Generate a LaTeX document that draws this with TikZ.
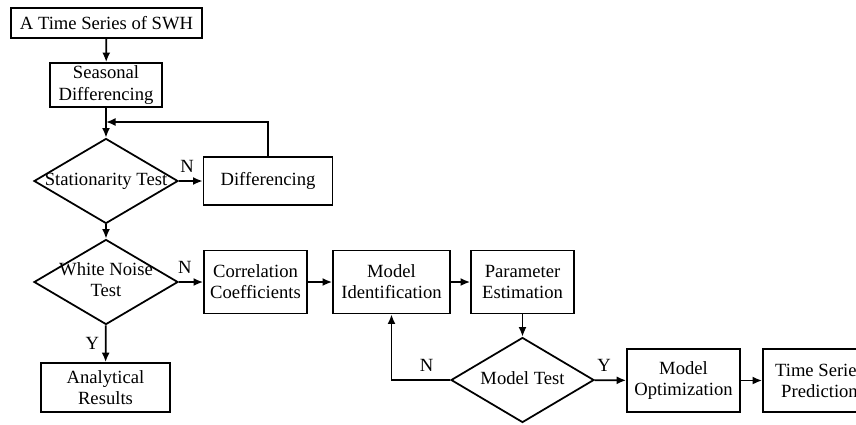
\documentclass[tikz,border=0pt]{standalone}
\usepackage{fontspec}
\setmainfont{Liberation Serif}
\usetikzlibrary{positioning,arrows.meta,shapes.geometric}
\newcommand{\dtext}[1]{\makebox[0pt]{\begin{tabular}{@{}c@{}}#1\end{tabular}}}

\begin{document}
\begin{tikzpicture}[every node/.style={font=\fontsize{10.6}{12}\selectfont},
  box/.style={draw,line width=1pt,align=center,inner sep=1pt},
  decision/.style={draw,diamond,line width=1pt,inner sep=0pt,minimum width=2.88cm,minimum height=1.70cm},
  flow/.style={-{Latex[length=1.9mm,width=1.6mm]},line width=1pt}]
  \useasboundingbox (0,0) rectangle (17.12,-8.48);
  % main column
  \node[box,minimum width=3.82cm,minimum height=0.60cm] (series) at (2.13,-0.46) {A Time Series of SWH};
  \node[box,minimum width=2.24cm,minimum height=0.88cm] (seas) at (2.12,-1.70) {Seasonal\\Differencing};
  \node[decision] (stat) at (2.12,-3.62) {\dtext{Stationarity Test}};
  \node[box,minimum width=2.58cm,minimum height=0.96cm] (diff) at (5.36,-3.62) {Differencing};
  \node[decision] (noise) at (2.12,-5.64) {\dtext{White Noise\\Test}};
  \node[box,minimum width=2.58cm,minimum height=0.98cm] (res) at (2.11,-7.75) {Analytical\\Results};
  % modelling row
  \node[box,minimum width=2.06cm,minimum height=1.26cm] (corr) at (5.11,-5.64) {Correlation\\Coefficients};
  \node[box,minimum width=2.34cm,minimum height=1.26cm] (ident) at (7.83,-5.64) {Model\\Identification};
  \node[box,minimum width=2.06cm,minimum height=1.26cm] (param) at (10.45,-5.64) {Parameter\\Estimation};
  \node[decision,minimum width=2.86cm] (mtest) at (10.45,-7.60) {\dtext{Model Test}};
  \node[box,minimum width=2.26cm,minimum height=1.26cm] (opt) at (13.67,-7.61) {Model\\Optimization};
  \node[box,minimum width=2.26cm,minimum height=1.26cm] (pred) at (16.39,-7.61) {Time Series\\Prediction};
  \coordinate (join) at (2.12,-2.44);

  \draw[flow] (series) -- (seas);
  \draw[flow] (seas) -- (stat);
  \draw[flow] (stat) -- node[above=1pt,pos=0.35] (n1) {N} (diff);
  \draw[flow] (diff.north) |- (join);
  \draw[flow] (stat) -- (noise);
  \draw[flow] (noise) -- node[above=1pt,pos=0.25] (n2) {N} (corr);
  \draw[flow] (noise) -- node[left,pos=0.5] (y1) {Y} (res);
  \draw[flow] (corr) -- (ident);
  \draw[flow] (ident) -- (param);
  \draw[flow] (param) -- (mtest);
  \draw[flow] (mtest.west) -| node[above=1pt,pos=0.2] (n3) {N} (ident.south);
  \draw[flow] (mtest) -- node[above=1pt,pos=0.3] (y2) {Y} (opt);
  \draw[flow] (opt) -- (pred);
\end{tikzpicture}
\end{document}
